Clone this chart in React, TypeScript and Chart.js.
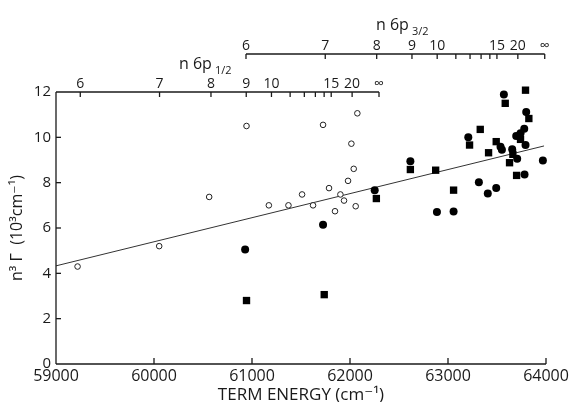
import React, { useEffect, useRef } from "react";
import { Chart, registerables } from "chart.js";

Chart.register(...registerables);

// ---- data (term energy cm^-1, n^3 Gamma in 10^3 cm^-1) ----
const openEnergy = [59220, 60053, 60563, 60944, 61172, 61372, 61511, 61623, 61725, 61786, 61847, 61902, 61939, 61980, 62014, 62038, 62058, 62075];
const openGamma = [4.3, 5.2, 7.37, 10.5, 7.0, 7.0, 7.48, 7.0, 10.55, 7.76, 6.74, 7.48, 7.21, 8.08, 9.72, 8.61, 6.96, 11.06];

const circleEnergy = [60930, 61725, 62252, 62616, 62887, 63057, 63207, 63315, 63406, 63492, 63536, 63550, 63570, 63635, 63655, 63696, 63706, 63740, 63778, 63781, 63791, 63798, 63968];
const circleGamma = [5.05, 6.14, 7.67, 8.95, 6.71, 6.73, 10.0, 8.02, 7.52, 7.77, 9.59, 9.45, 11.89, 12.49, 9.47, 10.06, 9.06, 10.18, 10.38, 8.36, 9.66, 11.12, 8.98];

const squareEnergy = [60944, 61737, 62269, 62616, 62874, 63057, 63220, 63329, 63414, 63492, 63584, 63628, 63662, 63700, 63740, 63791, 63825];
const squareGamma = [2.8, 3.06, 7.3, 8.58, 8.55, 7.67, 9.66, 10.35, 9.32, 9.81, 11.5, 8.88, 9.25, 8.32, 9.91, 12.08, 10.83];

const fitEnergy = [59000, 63980];
const fitGamma = [4.33, 9.62];

// ---- axes ----
const xTicks = [59000, 60000, 61000, 62000, 63000, 64000];
const yTicks = [0, 2, 4, 6, 8, 10, 12];
const nTickValues = [6, 7, 8, 9, 10, 11, 12, 13, 14, 15, 20, Infinity];
const nTickLabels = ["6", "7", "8", "9", "10", "", "", "", "", "15", "20", "∞"];
const LIMIT_P12 = 62296; // 6p1/2 series limit (cm^-1)
const LIMIT_P32 = 63987; // 6p3/2 series limit (cm^-1)
const RYDBERG = 109737;

const FONT = "'Open Sans', 'DejaVu Sans', sans-serif";
const INK = "#1a1a1a";

function levelEnergy(limit: number, n: number) {
  return isFinite(n) ? limit - RYDBERG / (n * n) : limit;
}

const axesPlugin = {
  id: "customAxes",
  afterDraw(chart: any) {
    const { ctx, chartArea: a, scales } = chart;
    const x = scales.x;
    const y = scales.y;
    const seg = (x1: number, y1: number, x2: number, y2: number) => {
      ctx.beginPath();
      ctx.moveTo(x1, y1);
      ctx.lineTo(x2, y2);
      ctx.stroke();
    };
    ctx.save();
    ctx.strokeStyle = INK;
    ctx.fillStyle = INK;
    ctx.lineWidth = 1.3;
    // left + bottom axes
    seg(a.left, a.bottom, a.left, a.top);
    seg(a.left, a.bottom, a.right, a.bottom);
    xTicks.slice(1).forEach((v) => {
      const px = x.getPixelForValue(v);
      seg(px, a.bottom, px, a.bottom - 6);
    });
    yTicks.slice(1, -1).forEach((v) => {
      const py = y.getPixelForValue(v);
      seg(a.left, py, a.left + 5, py);
    });

    const drawSeriesAxis = (limit: number, yLine: number, startX: number, sub: string, titleX: number, titleBase: number) => {
      const endX = x.getPixelForValue(limit);
      seg(startX, yLine, endX, yLine);
      ctx.font = `14px ${FONT}`;
      ctx.textAlign = "center";
      ctx.textBaseline = "alphabetic";
      nTickValues.forEach((n, i) => {
        const px = x.getPixelForValue(levelEnergy(limit, n));
        seg(px, yLine, px, yLine + 5);
        if (nTickLabels[i]) ctx.fillText(nTickLabels[i], px, yLine - 4);
      });
      ctx.textAlign = "left";
      ctx.font = `16px ${FONT}`;
      const main = "n 6p";
      ctx.fillText(main, titleX, titleBase);
      const w = ctx.measureText(main).width;
      ctx.font = `11px ${FONT}`;
      ctx.fillText(sub, titleX + w + 3, titleBase + 5);
    };
    // 6p1/2 axis along top of the plot
    drawSeriesAxis(LIMIT_P12, a.top, a.left, "1/2", 179, a.top - 23);
    // 6p3/2 axis above
    const y32 = a.top - 38;
    drawSeriesAxis(LIMIT_P32, y32, x.getPixelForValue(levelEnergy(LIMIT_P32, 6)), "3/2", 376, y32 - 24);
    ctx.restore();
  },
};

export default function App() {
  const canvasRef = useRef<HTMLCanvasElement | null>(null);

  useEffect(() => {
    document.body.style.margin = "0";
    const canvas = canvasRef.current;
    if (!canvas) return;
    const toPts = (xs: number[], ys: number[]) => xs.map((v, i) => ({ x: v, y: ys[i] }));
    const chart = new Chart(canvas, {
      type: "scatter",
      data: {
        datasets: [
          {
            label: "6p3/2 squares",
            data: toPts(squareEnergy, squareGamma),
            pointStyle: "rect",
            pointRadius: 5.2,
            backgroundColor: "#000",
            borderColor: "#000",
            borderWidth: 0,
            clip: false,
          },
          {
            label: "filled circles",
            data: toPts(circleEnergy, circleGamma),
            pointStyle: "circle",
            pointRadius: 4,
            backgroundColor: "#000",
            borderColor: "#000",
            borderWidth: 0,
            clip: false,
          },
          {
            label: "open circles",
            data: toPts(openEnergy, openGamma),
            pointStyle: "circle",
            pointRadius: 2.8,
            backgroundColor: "#fff",
            borderColor: "#222",
            borderWidth: 1,
            clip: false,
          },
          {
            label: "fit",
            data: toPts(fitEnergy, fitGamma),
            showLine: true,
            pointRadius: 0,
            borderColor: "#333",
            borderWidth: 1,
            clip: false,
          } as any,
        ],
      },
      options: {
        animation: false,
        responsive: false,
        events: [],
        layout: { padding: { top: 92, right: 28, left: 0, bottom: 0 } },
        plugins: { legend: { display: false }, tooltip: { enabled: false } },
        scales: {
          x: {
            type: "linear",
            min: 59000,
            max: 64000,
            afterBuildTicks: (s: any) => {
              s.ticks = xTicks.map((v) => ({ value: v }));
            },
            afterFit: (s: any) => {
              s.height = 38;
            },
            grid: { display: false, drawTicks: false },
            border: { display: false },
            ticks: {
              padding: 3,
              color: INK,
              font: { family: FONT, size: 16 },
              maxRotation: 0,
              callback: (v: any) => String(v),
            },
            title: {
              display: true,
              text: "TERM ENERGY (cm⁻¹)",
              color: INK,
              font: { family: FONT, size: 17 },
              padding: { top: 0, bottom: -3 },
            },
          },
          y: {
            type: "linear",
            min: 0,
            max: 12,
            afterBuildTicks: (s: any) => {
              s.ticks = yTicks.map((v) => ({ value: v }));
            },
            afterFit: (s: any) => {
              s.width = 56;
            },
            grid: { display: false, drawTicks: false },
            border: { display: false },
            ticks: {
              padding: 5,
              color: INK,
              font: { family: FONT, size: 15 },
            },
            title: {
              display: true,
              text: "n³ Γ  (10³cm⁻¹)",
              color: INK,
              font: { family: FONT, size: 16 },
              padding: { top: 8, bottom: 0 },
            },
          },
        },
      },
      plugins: [axesPlugin],
    } as any);
    return () => chart.destroy();
  }, []);

  return (
    <div style={{ width: 574, height: 402, background: "#fff" }}>
      <canvas ref={canvasRef} width={574} height={402} style={{ display: "block" }} />
    </div>
  );
}
